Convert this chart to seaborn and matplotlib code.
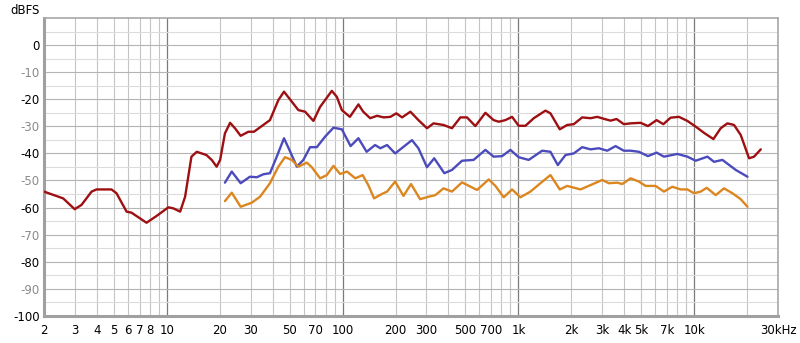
import matplotlib
matplotlib.use("Agg")
import matplotlib.pyplot as plt
import seaborn as sns
import pandas as pd
import numpy as np
from matplotlib.ticker import FixedLocator, NullFormatter

sns.set_theme(style="white")
plt.rcParams['font.family'] = ['DejaVu Sans']

# ---- data (frequency in Hz, level in dBFS) ----
red_freq = [2.0, 2.57, 2.99, 3.27, 3.73, 3.98, 4.84, 5.17, 5.90, 6.30, 7.66, 8.74, 10.2, 10.9,
            11.9, 12.7, 13.8, 14.8, 16.8, 18.0, 19.2, 20.1, 21.4, 22.9, 24.4, 26.3, 29.1, 31.3,
            38.6, 43.1, 46.4, 51.4, 56.0, 61.2, 68.2, 74.5, 86.8, 92.7, 99.0, 110, 123, 131,
            143.5, 157, 171, 187, 202, 218, 243, 270, 302, 329, 375, 419, 468, 510, 569, 649,
            723, 773, 844, 921, 1004, 1097, 1223, 1426, 1522, 1720, 1895, 2066, 2307, 2574,
            2810, 3133, 3346, 3619, 3981, 4350, 4960, 5458, 6116, 6681, 7348, 8196, 9152,
            10206, 11378, 12872, 14163, 15464, 16866, 18413, 20532, 21924, 23942]
red_db = [-54.1, -56.6, -60.6, -59.0, -54.1, -53.3, -53.3, -54.7, -61.5, -61.9, -65.6, -63.1,
          -59.9, -60.3, -61.5, -56.0, -41.2, -39.4, -40.6, -42.4, -44.9, -42.4, -32.6, -28.7,
          -30.7, -33.5, -32.0, -32.0, -27.7, -20.3, -17.2, -20.9, -24.0, -24.6, -28.0, -22.8,
          -16.9, -19.1, -24.0, -26.5, -21.9, -24.6, -27.0, -26.1, -26.7, -26.5, -25.2, -26.7,
          -24.6, -27.7, -30.7, -28.9, -29.5, -30.7, -26.7, -26.7, -29.9, -25.0, -27.7, -28.3,
          -27.7, -26.5, -29.8, -29.8, -27.0, -24.2, -25.2, -31.1, -29.5, -29.2, -26.7, -27.0,
          -26.5, -27.4, -27.9, -27.3, -29.2, -28.9, -28.7, -29.9, -27.7, -29.2, -26.8, -26.5,
          -28.0, -30.1, -32.4, -34.7, -30.7, -28.9, -29.5, -33.2, -41.8, -41.2, -38.5]

blue_freq = [21.4, 23.4, 26.3, 29.7, 32.5, 35.4, 38.6, 42.2, 46.4, 49.8, 54.9, 59.8, 65.3, 71.3,
             79.5, 88.7, 99.0, 111, 123, 137, 153, 164, 179, 199, 248, 270, 302, 332, 379, 419,
             478, 556, 649, 723, 808, 901, 1004, 1145, 1366, 1522, 1676, 1854, 2066, 2307, 2574,
             2870, 3204, 3572, 3981, 4350, 4849, 5458, 6116, 6732, 8024, 9152, 10206, 11900,
             12972, 14486, 17248, 20106]
blue_db = [-50.8, -46.7, -51.0, -48.6, -48.8, -47.7, -47.3, -41.2, -34.4, -38.7, -44.9, -42.4,
           -37.7, -37.7, -33.8, -30.5, -31.1, -37.3, -34.4, -39.4, -36.9, -38.1, -36.9, -40.0,
           -35.1, -38.1, -45.1, -41.8, -47.3, -46.1, -42.7, -42.4, -38.7, -41.2, -41.0, -38.7,
           -41.4, -42.4, -39.0, -39.4, -44.3, -40.6, -40.0, -37.7, -38.5, -38.1, -39.0, -37.3,
           -39.0, -39.0, -39.4, -41.0, -39.7, -41.2, -40.2, -41.2, -42.7, -41.2, -43.1, -42.4,
           -46.1, -48.6]

orange_freq = [21.4, 23.4, 26.3, 30.4, 33.9, 38.6, 43.1, 47.0, 51.4, 56.0, 62.6, 66.8, 74.5,
               81.3, 88.7, 96.8, 106, 118, 130, 140, 151, 167, 179, 199, 222, 245, 276, 308,
               337, 375, 419, 478, 582, 678, 740, 825, 921, 1027, 1171, 1335, 1522, 1720, 1895,
               2257, 2574, 3001, 3271, 3652, 3900, 4350, 4849, 5296, 6036, 6732, 7515, 8382,
               9152, 9977, 10897, 11790, 13266, 14787, 16514, 18413, 20106]
orange_db = [-57.6, -54.5, -59.7, -58.2, -56.0, -51.0, -44.9, -41.4, -42.4, -44.9, -43.4, -45.1,
             -49.2, -48.0, -44.6, -47.6, -46.7, -49.2, -48.0, -51.7, -56.6, -55.0, -54.1, -50.4,
             -55.7, -51.3, -56.9, -56.0, -55.4, -52.9, -54.1, -50.7, -53.5, -49.6, -52.0, -56.2,
             -53.3, -56.2, -54.1, -51.0, -48.0, -53.3, -52.0, -53.3, -51.7, -49.8, -51.0, -50.8,
             -51.3, -49.2, -50.4, -52.0, -52.0, -54.1, -52.3, -53.3, -53.3, -54.7, -54.1, -52.7,
             -55.4, -52.9, -54.7, -56.9, -59.7]

x_tick_vals = [2, 3, 4, 5, 6, 7, 8, 10, 20, 30, 50, 70, 100, 200, 300, 500, 700, 1000,
               2000, 3000, 4000, 5000, 7000, 10000, 30000]
x_tick_labels = ["2", "3", "4", "5", "6", "7", "8", "10", "20", "30", "50", "70", "100",
                 "200", "300", "500", "700", "1k", "2k", "3k", "4k", "5k", "7k", "10k", "30kHz"]
y_tick_vals = [0, -10, -20, -30, -40, -50, -60, -70, -80, -90, -100]

df = pd.concat([
    pd.DataFrame({"freq": red_freq, "db": red_db, "series": "red"}),
    pd.DataFrame({"freq": blue_freq, "db": blue_db, "series": "blue"}),
    pd.DataFrame({"freq": orange_freq, "db": orange_db, "series": "orange"}),
])
palette = {"red": "#9e0f12", "blue": "#4b4bbd", "orange": "#dc861f"}

fig = plt.figure(figsize=(8, 3.43), dpi=100)
ax = fig.add_axes([0.055, 0.079, 0.9175, 0.8685])
ax.set_xscale("log")

# grid lines
minor_x = []
for dec in [1, 10, 100, 1000, 10000]:
    for m in range(2, 10):
        v = m * dec
        if 2 <= v <= 30000:
            minor_x.append(v)
for v in minor_x:
    ax.axvline(v, color="#c4c4c4", lw=0.8, zorder=0)
for v in [10, 100, 1000, 10000]:
    ax.axvline(v, color="#7a7a7a", lw=0.9, zorder=0)
for v in range(-95, 10, 10):
    ax.axhline(v, color="#dcdcdc", lw=0.8, zorder=0)
for v in range(-90, 10, 10):
    ax.axhline(v, color="#b4b4b4", lw=0.8, zorder=0)

sns.lineplot(data=df, x="freq", y="db", hue="series", palette=palette, sort=False,
             estimator=None, lw=1.7, legend=False, ax=ax, zorder=3)
for l in ax.lines:
    l.set_solid_joinstyle("round")
    l.set_solid_capstyle("round")

ax.set_xlim(2, 30000)
ax.set_ylim(-100, 10)
ax.xaxis.set_major_locator(FixedLocator(x_tick_vals))
ax.set_xticks(x_tick_vals)
ax.set_xticklabels(x_tick_labels)
ax.xaxis.set_minor_formatter(NullFormatter())
ax.set_yticks(y_tick_vals)
ax.set_yticklabels([str(v) for v in y_tick_vals])
ax.tick_params(axis="both", which="both", length=0, labelsize=8.5, colors="#000000")
for v, lab in zip(y_tick_vals, ax.get_yticklabels()):
    lab.set_color("#000000" if v % 20 == 0 else "#8a8a8a")
ax.tick_params(axis="x", pad=6)
ax.tick_params(axis="y", pad=3)
ax.set_xlabel("")
ax.set_ylabel("")

for side in ["top", "right"]:
    ax.spines[side].set_color("#a8a8a8")
    ax.spines[side].set_linewidth(1.2)
for side in ["left", "bottom"]:
    ax.spines[side].set_color("#a0a0a0")
    ax.spines[side].set_linewidth(2.2)
for s in ax.spines.values():
    s.set_visible(True)

fig.text(10 / 800, 1 - 10 / 343, "dBFS", fontsize=8.5, va="center", ha="left", color="#000000")

fig.savefig("out.png", dpi=100, facecolor="white")
